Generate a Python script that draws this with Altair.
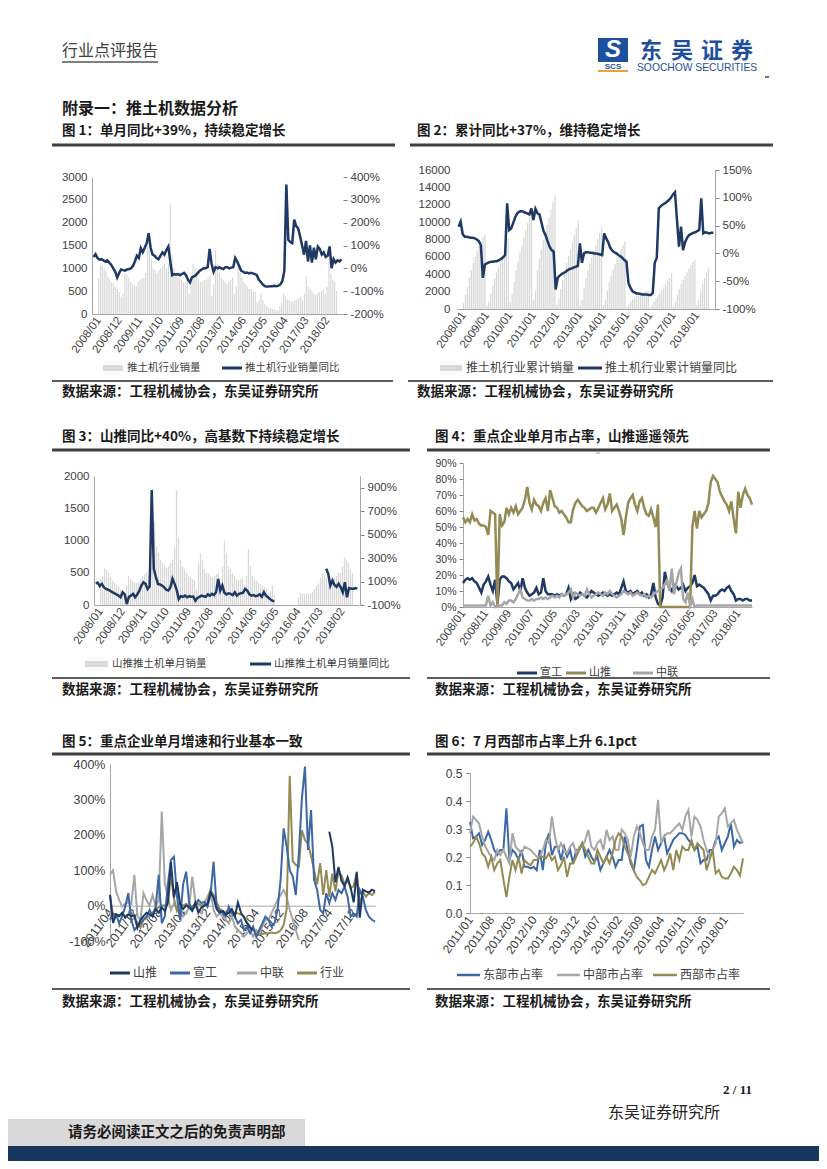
import altair as alt
import pandas as pd

W, H = 811, 1153
OX = OY = 8
CJK = "Noto Sans CJK SC"
LAT = "Liberation Sans"
NAVY = "#1F3864"
KHAKI = "#948A54"
GRAYL = "#A6A6A6"
BLUE = "#3C68A6"
BARC = "#D9D9D9"
LBL = "#404040"

# ---------------- data ----------------
# Fig1: monthly bulldozer sales 2008/01-2018/07 and YoY %
vol1 = [780, 1050, 1080, 1000, 950, 820, 760, 700, 650, 600, 550, 480,
        380, 450, 900, 850, 800, 700, 650, 620, 600, 700, 750, 780,
        800, 900, 1500, 1400, 1200, 1000, 950, 900, 950, 1000, 1050, 1100,
        1000, 1100, 2400, 1300, 1000, 900, 800, 800, 750, 700, 700, 750,
        450, 700, 1100, 1000, 900, 750, 700, 700, 750, 750, 800, 850,
        400, 650, 1400, 1100, 900, 800, 750, 700, 650, 700, 750, 800,
        450, 600, 1100, 900, 800, 700, 650, 600, 550, 550, 500, 480,
        250, 300, 450, 300, 220, 170, 140, 120, 110, 100, 90, 80,
        180, 250, 450, 380, 320, 300, 280, 270, 300, 320, 350, 380,
        300, 450, 820, 600, 550, 500, 450, 420, 450, 480, 500, 550,
        450, 600, 1150, 900, 750, 700, 500]
yoy1 = [50, 62, 45, 38, 40, 35, 30, 35, 25, 15, 0, -15,
        -40, -20, -5, -8, -10, -5, -3, 0, 10, 30, 55, 45,
        88, 70, 90, 110, 154, 90, 60, 55, 45, 40, 55, 70,
        60, 80, 95, 30, -30, -25, -28, -25, -30, -25, -20, -30,
        -50, -62, -40, -35, -30, -20, -10, -5, 0, 0, 5, 85,
        20, -15, 5, 0, 5, 0, -3, 5, 5, 0, 3, 5,
        45, 30, 10, -10, -15, -20, -18, -22, -20, -22, -25, -30,
        -50, -60, -70, -78, -80, -80, -78, -78, -76, -78, -76, -70,
        -55, -10, 367, 125, 115, 110, 213, 185, 175, 140, 100, 60,
        120, 30, 100, 25, 90, 40, 95, 85, 60, 70, 50, 55,
        96, 0, 40, 25, 35, 30, 39]

# Fig2: cumulative sales and cumulative YoY %
cum2 = [700, 1600, 2600, 3600, 4500, 5300, 6000, 6700, 7300, 7800, 8300, 8600,
        350, 900, 1800, 2700, 3500, 4200, 4800, 5400, 6000, 6700, 7400, 8100,
        800, 1700, 3100, 4400, 5500, 6500, 7400, 8300, 9100, 9900, 10600, 11300,
        1000, 2100, 4500, 5800, 6900, 7900, 8800, 9700, 10500, 11400, 12200, 13100,
        450, 1150, 2300, 3400, 4400, 5300, 6100, 6900, 7700, 8500, 9300, 10200,
        400, 1050, 2450, 3550, 4450, 5250, 6000, 6700, 7350, 8050, 8750, 9400,
        450, 1050, 2150, 3050, 3850, 4550, 5200, 5800, 6350, 6900, 7350, 7800,
        250, 550, 900, 1150, 1350, 1520, 1650, 1760, 1870, 1960, 2040, 2100,
        200, 450, 900, 1250, 1600, 1900, 2200, 2500, 2850, 3200, 3600, 4100,
        350, 800, 1650, 2300, 2850, 3350, 3800, 4200, 4650, 5100, 5450, 5700,
        450, 1000, 2100, 2900, 3600, 4200, 4700]
cyoy2 = [48, 57, 35, 30, 30, 29, 28, 28, 27, 25, 22, 15,
         -44, -20, -18, -16, -15, -15, -14, -14, -12, -10, -7, -3,
         90, 42, 45, 55, 65, 72, 75, 76, 75, 73, 72, 70,
         81, 60, 80, 72, 70, 55, 40, 33, 22, 12, 6, 3,
         -65, -44, -40, -37, -35, -33, -30, -28, -27, -25, -24, -22,
         18, -17, 0, 2, 2, 1, 1, 0, 0, -1, -2, -3,
         36, 27, 20, 10, 5, 2, 0, -3, -5, -8, -12, -15,
         -53, -62, -68, -70, -72, -72, -73, -74, -74, -74, -75, -75,
         -71, -17, -8, 81, 85, 88, 90, 93, 96, 100, 106, 110,
         60, 12, 48, 6, 20, 28, 33, 35, 37, 38, 40, 42,
         99, 36, 38, 37, 36, 37, 37]

# Fig3: Shantui monthly sales and YoY %
N = None
vol3 = [400, 450, 570, 550, 500, 420, 380, 350, 320, 280, 230, 200,
        150, 300, 450, 400, 380, 350, 340, 350, 400, 450, 480, 500,
        450, 600, 1250, 1300, 900, 800, 700, 650, 620, 580, 600, 650,
        700, 900, 1780, 1050, 700, 600, 550, 500, 450, 420, 400, 380,
        250, 650, 800, 700, 550, 500, 480, 450, 430, 450, 480, 500,
        350, 600, 1000, 800, 600, 550, 500, 450, 400, 380, 400, 420,
        300, 450, 870, 600, 450, 400, 380, 350, 320, 300, 280, 250,
        180, 220, 300, 150, N, N, N, N, N, N, N, N,
        N, N, N, 120, 180, 170, 170, 180, 170, 180, 200, 250,
        300, 330, 420, 500, 450, 420, 400, 380, 400, 420, 450, 500,
        500, 600, 730, 700, 650, 550, 500]
yoy3 = [86, 90, 60, 80, 50, 37, 30, 20, 10, 0, -10, -20,
        -34, 9, -10, -91, -30, -20, -5, -34, -10, 20, 66, 94,
        80, 37, 60, 880, 209, 137, 80, 75, 66, 50, 30, 23,
        51, 123, 80, 30, -49, -25, -30, -20, -34, -25, -30, -28,
        -63, -40, -30, -20, -25, -30, -10, -20, -5, -15, 10, 123,
        23, 66, 5, -10, 0, -5, -15, 9, -20, -5, 0, 5,
        37, 23, -10, -20, -15, -25, -20, -10, -30, 9, -20, -34,
        -50, -63, -69, N, N, N, N, N, N, N, N, N,
        N, N, N, N, N, N, N, N, N, N, N, N,
        N, N, N, 209, 166, 66, 109, 70, 55, 80, 51, 9,
        94, -34, 45, 40, 37, 45, 40]

# Fig4: monthly market share %, 2008/01-2018/07
xg4 = [15, 17, 18, 17, 18, 16, 15, 12, 9, 14, 16, 19,
       14, 10, 17, 2, 17, 19, 19, 18, 16, 15, 11, 13,
       15, 10, 18, 12, 9, 7, 8, 9, 12, 8, 9, 18,
       10, 8, 8, 8, 7, 8, 7, 8, 7, 8, 12, 5,
       8, 5, 6, 9, 8, 7, 6, 8, 10, 9, 8, 7,
       8, 9, 8, 7, 8, 7, 8, 9, 8, 12, 16, 10,
       9, 10, 8, 9, 10, 8, 9, 7, 8, 6, 8, 15,
       6, 2, 1, 6, 22, 15, 12, 10, 14, 13, 11, 12,
       14, 10, 12, 13, 15, 20, 13, 14, 13, 12, 10, 8,
       4, 7, 7, 8, 10, 11, 10, 12, 13, 10, 8, 4,
       5, 5, 4, 5, 5, 4, 4]
st4 = [56, 53, 55, 53, 58, 54, 55, 52, 51, 51, 50, 45,
       60, 59, 58, 0, 58, 51, 53, 62, 58, 62, 59, 63,
       58, 60, 62, 67, 75, 65, 61, 67, 64, 63, 60, 65,
       68, 60, 73, 68, 63, 62, 59, 60, 58, 56, 53, 53,
       61, 65, 67, 65, 63, 62, 60, 61, 62, 62, 59, 62,
       65, 68, 61, 64, 71, 60, 62, 64, 60, 55, 45, 56,
       65, 68, 70, 64, 60, 66, 68, 62, 58, 57, 61, 56,
       50, 64, 0, 0, 0, 0, 0, 0, 0, 0, 0, 0,
       0, 0, 0, 0, 50, 60, 49, 60, 56, 58, 60, 65,
       78, 82, 80, 78, 72, 69, 66, 64, 60, 66, 55, 46,
       72, 62, 70, 74, 70, 68, 64]
zl4 = [1, 1, 1, 1, 1, 1, 1, 1, 1, 1, 1, 7,
       1, 3, 0, 1, 1, 1, 3, 2, 4, 4, 3, 5,
       8, 11, 6, 5, 4, 4, 5, 4, 5, 5, 6, 5,
       6, 5, 6, 7, 6, 7, 6, 8, 7, 8, 9, 11,
       6, 9, 8, 7, 8, 7, 11, 8, 6, 7, 8, 9,
       8, 7, 9, 8, 10, 8, 7, 6, 7, 8, 10, 9,
       8, 9, 7, 8, 9, 8, 7, 8, 6, 7, 6, 8,
       9, 10, 11, 12, 14, 17, 10, 24, 8, 15, 21, 24,
       5, 3, 9, 1, 5, 0, 1, 1, 1, 1, 1, 1,
       1, 1, 1, 1, 1, 1, 1, 1, 1, 1, 1, 1,
       1, 1, 1, 1, 1, 1, 1]

# Fig5: YoY % 2011/04-2018/07
st5 = yoy3[39:]
ind5 = yoy1[39:]
xg5 = [-40, -22, -25, -50, -30, -3, 35, -40, -69, -59, -50, -40,
       -31, -12, -30, -3, 87, -50, -30, 60, 129, 138, 25, -40,
       60, 96, 7, -12, -3, 16, 7, 11, -3, 30, 124, -3,
       -12, -22, -31, -3, -22, -31, -50, -40, -69, -60, -78, -59,
       -88, -69, -50, -31, -40, -59, -50, -12, 73, 218, 167, 100,
       82, 30, 148, 303, 393, 157, 270, 73, 44, -12, -22, 35,
       7, 35, 16, 44, 35, 54, 25, -31, -22, -31, 44, 25,
       -12, -31, -40, -45]
zl5 = [87, 100, 40, 16, -3, 5, 10, 5, 87, -31, -40, 35,
       15, 0, 30, -3, 16, 266, 63, 25, -12, 7, -12, -3,
       -31, -22, -3, 82, 16, -12, -22, 7, 25, 44, -12, -31,
       -22, -31, -40, -50, -31, -59, -69, -78, -88, -78, -69, -88,
       -69, -78, -59, -40, -40, -22, -3, 16, 30, 44, 25, -12,
       -40, -69, -97] + [None] * 25

# Fig6: regional share 2011/01-2018/07
east6 = [.325, .267, .273, .285, .243, .261, .29, .261, .225, .207, .225, .225,
         .374, .19, .225, .213, .19, .225, .165, .165, .159, .165, .153, .225,
         .153, .249, .285, .207, .237, .237, .189, .237, .201, .225, .177, .225,
         .225, .249, .201, .225, .201, .183, .201, .153, .177, .201, .225, .201,
         .165, .189, .189, .273, .225, .177, .153, .225, .309, .315, .189, .165,
         .225, .273, .225, .249, .273, .213, .237, .261, .273, .285, .285, .279,
         .261, .249, .225, .237, .177, .189, .189, .225, .225, .261, .273, .225,
         .249, .273, .32, .237, .261, .25, .255]
cent6 = [.285, .344, .332, .32, .273, .237, .219, .2, .189, .225, .207, .225,
         .201, .177, .285, .237, .225, .213, .237, .231, .225, .213, .201, .201,
         .225, .261, .249, .344, .273, .225, .249, .225, .213, .237, .249, .213,
         .237, .237, .261, .297, .237, .225, .249, .261, .225, .297, .261, .273,
         .225, .225, .297, .285, .261, .201, .273, .309, .285, .249, .225, .225,
         .273, .297, .404, .249, .273, .285, .285, .297, .309, .32, .297, .344,
         .368, .273, .344, .332, .309, .261, .225, .201, .225, .249, .344, .356,
         .374, .309, .32, .332, .297, .273, .249]
west6 = [.237, .249, .273, .249, .213, .201, .165, .201, .153, .177, .189, .12,
         .057, .129, .189, .153, .201, .141, .189, .177, .171, .189, .189, .201,
         .201, .195, .213, .189, .201, .153, .171, .201, .129, .177, .177, .201,
         .225, .249, .225, .201, .177, .177, .225, .201, .177, .201, .177, .213,
         .261, .285, .273, .237, .213, .189, .153, .129, .117, .099, .105, .129,
         .153, .141, .165, .189, .153, .177, .213, .153, .225, .189, .237, .225,
         .225, .261, .225, .249, .237, .225, .153, .189, .225, .141, .153, .129,
         .123, .123, .141, .165, .153, .134, .195]


# ---------------- helpers ----------------
def X(x):
    return x - OX


def Y(y):
    return y - OY


ONE = pd.DataFrame({"a": [0]})


def txt(s, x, y, size, color="#262626", weight="normal", align="left", font=CJK, style="normal"):
    return alt.Chart(ONE).mark_text(text=s, font=font, fontSize=size, fontWeight=weight,
                                    color=color, align=align, baseline="middle",
                                    fontStyle=style).encode(
        x=alt.value(X(x)), y=alt.value(Y(y)))


def hline(x0, x1, y, color, w):
    return alt.Chart(ONE).mark_rule(color=color, strokeWidth=w).encode(
        x=alt.value(X(x0)), x2=alt.value(X(x1)), y=alt.value(Y(y)))


def box(x0, x1, y0, y1, color):
    return alt.Chart(ONE).mark_rect(color=color).encode(
        x=alt.value(X(x0)), x2=alt.value(X(x1)), y=alt.value(Y(y0)), y2=alt.value(Y(y1)))


def month_expr(y0, m0):
    t = f"({m0 - 1}+datum.value)"
    return f"(floor({t}/12)+{y0}) + '/' + ((({t}%12)+1) < 10 ? '0' : '') + (({t}%12)+1)"


def xs(n, x0, x1, pad):
    return alt.Scale(domain=[-pad, n - 1 + pad], range=[X(x0), X(x1)], nice=False, zero=False)


def ys(d0, d1, ytop, ybot):
    return alt.Scale(domain=[d0, d1], range=[Y(ybot), Y(ytop)], nice=False, zero=False)


def xax(vals, y0, m0, ybottom, size=11.5, angle=-54, domain=True):
    return alt.Axis(orient="bottom", offset=Y(ybottom) - H, values=vals,
                    labelExpr=month_expr(y0, m0), labelAngle=angle, labelAlign="right",
                    labelBaseline="middle", labelFont=LAT, labelFontSize=size,
                    labelColor=LBL, labelPadding=4, labelOverlap=False, labelFlush=False,
                    labelBound=False, domain=domain, domainColor="#A6A6A6", domainWidth=1,
                    ticks=False, grid=False, title=None)


def yax(orient, vals, xpos, size=11.5, expr=None, fmt="d", domain=True, ticks=False, pad=5):
    off = -X(xpos) if orient == "left" else X(xpos) - W
    kw = {}
    if expr:
        kw["labelExpr"] = expr
    else:
        kw["format"] = fmt
    return alt.Axis(orient=orient, offset=off, values=vals, labelFont=LAT, labelFontSize=size,
                    labelColor=LBL, labelPadding=pad, labelOverlap=False, labelFlush=False,
                    labelBound=False, domain=domain, domainColor="#A6A6A6", domainWidth=1,
                    ticks=ticks, tickSize=4, tickColor="#808080", grid=False, title=None, **kw)


def seg_df(vals):
    rows, seg, prev = [], 0, False
    for i, v in enumerate(vals):
        if v is None:
            if prev:
                seg += 1
            prev = False
            continue
        rows.append({"m": i, "v": v, "seg": seg})
        prev = True
    return pd.DataFrame(rows)


def bars(vals, sx, xaxis, sy, yaxis, size):
    return alt.Chart(seg_df(vals)).mark_bar(color=BARC, size=size).encode(
        x=alt.X("m:Q", scale=sx, axis=xaxis), y=alt.Y("v:Q", scale=sy, axis=yaxis))


def line(vals, sx, xaxis, sy, yaxis, color, w):
    return alt.Chart(seg_df(vals)).mark_line(color=color, strokeWidth=w).encode(
        x=alt.X("m:Q", scale=sx, axis=xaxis), y=alt.Y("v:Q", scale=sy, axis=yaxis),
        detail="seg:N")


def leg_bar(x0, x1, y, label, size):
    return [box(x0, x1, y - 3, y + 3, BARC), txt(label, x1 + 4, y, size, color=LBL)]


def leg_line(x0, x1, y, label, color, size, w=3):
    return [hline(x0, x1, y, color, w), txt(label, x1 + 3, y, size, color=LBL)]


layers = []

# ---------------- page decorations ----------------
layers += [
    txt("行业点评报告", 62, 51, 16, color="#404040"),
    hline(62, 158, 62, "#7F7F7F", 2),
    box(598, 628, 38, 62, "#1E50A0"),
    txt("S", 613, 50, 24, color="white", weight="bold", align="center", font=LAT, style="italic"),
    txt("SCS", 613, 67, 8, color="#1E50A0", weight="bold", align="center", font=LAT),
    hline(598, 628, 71, "#F0A030", 2),
    txt("东", 651, 51, 22, color="#1E4E9C", weight="bold", align="center"),
    txt("吴", 682, 51, 22, color="#1E4E9C", weight="bold", align="center"),
    txt("证", 712, 51, 22, color="#1E4E9C", weight="bold", align="center"),
    txt("券", 742, 51, 22, color="#1E4E9C", weight="bold", align="center"),
    txt("SOOCHOW SECURITIES", 637, 67.5, 10.3, color="#1E4E9C", font=LAT),
    hline(765, 769, 77, "#404040", 1.5),
    txt("附录一：推土机数据分析", 62, 109, 16, color="#1a1a1a", weight="bold"),
]

SRC = "数据来源：工程机械协会，东吴证券研究所"
TL = "#3F3F3F"
# row titles / frames
layers += [
    txt("图 1：单月同比+39%，持续稳定增长", 62, 131, 13.5, weight="bold", color="#1a1a1a"),
    txt("图 2：累计同比+37%，维持稳定增长", 417, 131, 13.5, weight="bold", color="#1a1a1a"),
    hline(52, 395, 145, TL, 3), hline(410, 773, 145, TL, 3),
    hline(52, 393, 381, "#262626", 1.5), hline(408, 773, 381, "#262626", 1.5),
    txt(SRC, 62, 392, 13.5, weight="bold", color="#1a1a1a"),
    txt(SRC, 417, 392, 13.5, weight="bold", color="#1a1a1a"),

    txt("图 3：山推同比+40%，高基数下持续稳定增长", 62, 437, 13.5, weight="bold", color="#1a1a1a"),
    txt("图 4：重点企业单月市占率，山推遥遥领先", 435, 437, 13.5, weight="bold", color="#1a1a1a"),
    hline(52, 410, 450, TL, 3), hline(427, 770, 450, TL, 3),
    hline(596, 600, 453, "#999999", 1),
    hline(52, 410, 678, "#262626", 1.5), hline(427, 770, 678, "#262626", 1.5),
    txt(SRC, 62, 690, 13.5, weight="bold", color="#1a1a1a"),
    txt(SRC, 435, 690, 13.5, weight="bold", color="#1a1a1a"),

    txt("图 5：重点企业单月增速和行业基本一致", 62, 742, 13.5, weight="bold", color="#1a1a1a"),
    txt("图 6：7 月西部市占率上升 6.1pct", 435, 742, 13.5, weight="bold", color="#1a1a1a"),
    hline(52, 410, 754, TL, 3), hline(427, 770, 754, TL, 3),
    hline(52, 410, 989, "#262626", 1.5), hline(427, 770, 989, "#262626", 1.5),
    txt(SRC, 62, 1002, 13.5, weight="bold", color="#1a1a1a"),
    txt(SRC, 435, 1002, 13.5, weight="bold", color="#1a1a1a"),
]

# footer
layers += [
    txt("2 / 11", 752, 1090, 13, color="#1a1a1a", weight="bold", align="right", font="Liberation Serif"),
    txt("东吴证券研究所", 608, 1113, 16, color="#262626"),
    box(8, 305, 1119, 1146, "#D9D9D9"),
    txt("请务必阅读正文之后的免责声明部", 68, 1132.5, 14.5, color="#1a1a1a", weight="bold"),
    box(8, 819, 1146, 1169, "#17375E"),
]

# ---------------- Fig 1 ----------------
sx1 = xs(127, 92, 343, 0.8)
layers += [
    bars(vol1, sx1, xax(list(range(0, 127, 11)), 2008, 1, 314),
         ys(0, 3000, 177, 314), yax("left", list(range(0, 3001, 500)), 92), 1.2),
    line(yoy1, sx1, None, ys(-200, 400, 177, 314),
         yax("right", list(range(-200, 401, 100)), 343, expr="datum.value + '%'",
             domain=False, ticks=True, pad=3), NAVY, 2.5),
]
layers += leg_bar(103, 123, 368, "推土机行业销量", 10.5)
layers += leg_line(222, 242, 368, "推土机行业销量同比", NAVY, 10.5)

# ---------------- Fig 2 ----------------
sx2 = xs(127, 457, 715, 0.8)
layers += [
    bars(cum2, sx2, xax(list(range(0, 127, 12)), 2008, 1, 309),
         ys(0, 16000, 170, 309), yax("left", list(range(0, 16001, 2000)), 457, domain=False, pad=7), 1.3),
    line(cyoy2, sx2, None, ys(-100, 150, 170, 309),
         yax("right", list(range(-100, 151, 50)), 715, expr="datum.value + '%'",
             domain=True, ticks=True, pad=3), NAVY, 2.5),
]
layers += leg_bar(440, 462, 368, "推土机行业累计销量", 12)
layers += leg_line(578, 602, 368, "推土机行业累计销量同比", NAVY, 12)

# ---------------- Fig 3 ----------------
sx3 = xs(127, 94, 359, 0.8)
layers += [
    bars(vol3, sx3, xax(list(range(0, 127, 11)), 2008, 1, 605),
         ys(0, 2000, 476, 605), yax("left", list(range(0, 2001, 500)), 94), 1.3),
    line(yoy3, sx3, None, ys(-100, 1000, 476, 605),
         yax("right", list(range(-100, 901, 200)), 360, expr="datum.value + '%'",
             domain=True, ticks=True, pad=3), NAVY, 2.5),
]
layers += leg_bar(85, 108, 664, "山推推土机单月销量", 10.5)
layers += leg_line(250, 271, 664, "山推推土机单月销量同比", NAVY, 10.5)

# ---------------- Fig 4 ----------------
sx4 = xs(127, 463, 752, 0)
sy4 = ys(0, 90, 463, 607)
layers += [
    line(xg4, sx4, xax(list(range(0, 127, 10)), 2008, 1, 607), sy4,
         yax("left", list(range(0, 91, 10)), 463, size=10.5, expr="datum.value + '%'",
             ticks=True, pad=3), NAVY, 2.5),
    line(st4, sx4, None, sy4, None, KHAKI, 2.5),
    line(zl4, sx4, None, sy4, None, GRAYL, 2.5),
]
layers += leg_line(517, 537, 673, "宣工", NAVY, 11)
layers += leg_line(566, 586, 673, "山推", KHAKI, 11)
layers += leg_line(633, 653, 673, "中联", GRAYL, 11)

# ---------------- Fig 5 ----------------
sx5 = xs(88, 110, 375, 0)
sy5 = ys(-100, 400, 764, 941)
layers += [
    line(zl5, sx5, xax(list(range(0, 88, 8)), 2011, 4, 905.7, size=12.5), sy5,
         yax("left", list(range(-100, 401, 100)), 110, size=12.5, expr="datum.value + '%'",
             pad=5), GRAYL, 2),
    line(ind5, sx5, None, sy5, None, KHAKI, 2),
    line(xg5, sx5, None, sy5, None, BLUE, 2),
    line(st5, sx5, None, sy5, None, NAVY, 2),
]
layers += leg_line(110, 130, 973, "山推", NAVY, 12)
layers += leg_line(170, 190, 973, "宣工", BLUE, 12)
layers += leg_line(237, 257, 973, "中联", GRAYL, 12)
layers += leg_line(297, 317, 973, "行业", KHAKI, 12)

# ---------------- Fig 6 ----------------
sx6 = xs(91, 470, 743, 0)
sy6 = ys(0, 0.5, 773, 913)
layers += [
    line(east6, sx6, xax(list(range(0, 91, 7)), 2011, 1, 913, size=12), sy6,
         yax("left", [0, 0.1, 0.2, 0.3, 0.4, 0.5], 470, size=12, fmt=".1f", ticks=True, pad=4),
         BLUE, 2),
    line(cent6, sx6, None, sy6, None, GRAYL, 2),
    line(west6, sx6, None, sy6, None, KHAKI, 2),
]
layers += leg_line(457, 480, 975, "东部市占率", BLUE, 12, w=2.5)
layers += leg_line(557, 580, 975, "中部市占率", GRAYL, 12, w=2.5)
layers += leg_line(653, 677, 975, "西部市占率", KHAKI, 12, w=2.5)

chart = alt.layer(*layers).resolve_scale(x="independent", y="independent").resolve_axis(
    x="independent", y="independent").properties(
    width=W, height=H, padding=0, autosize=alt.AutoSizeParams(type="none"),
    background="white").configure_view(strokeWidth=0)

chart.save("out.html", embed_options={"renderer": "svg", "actions": False})
